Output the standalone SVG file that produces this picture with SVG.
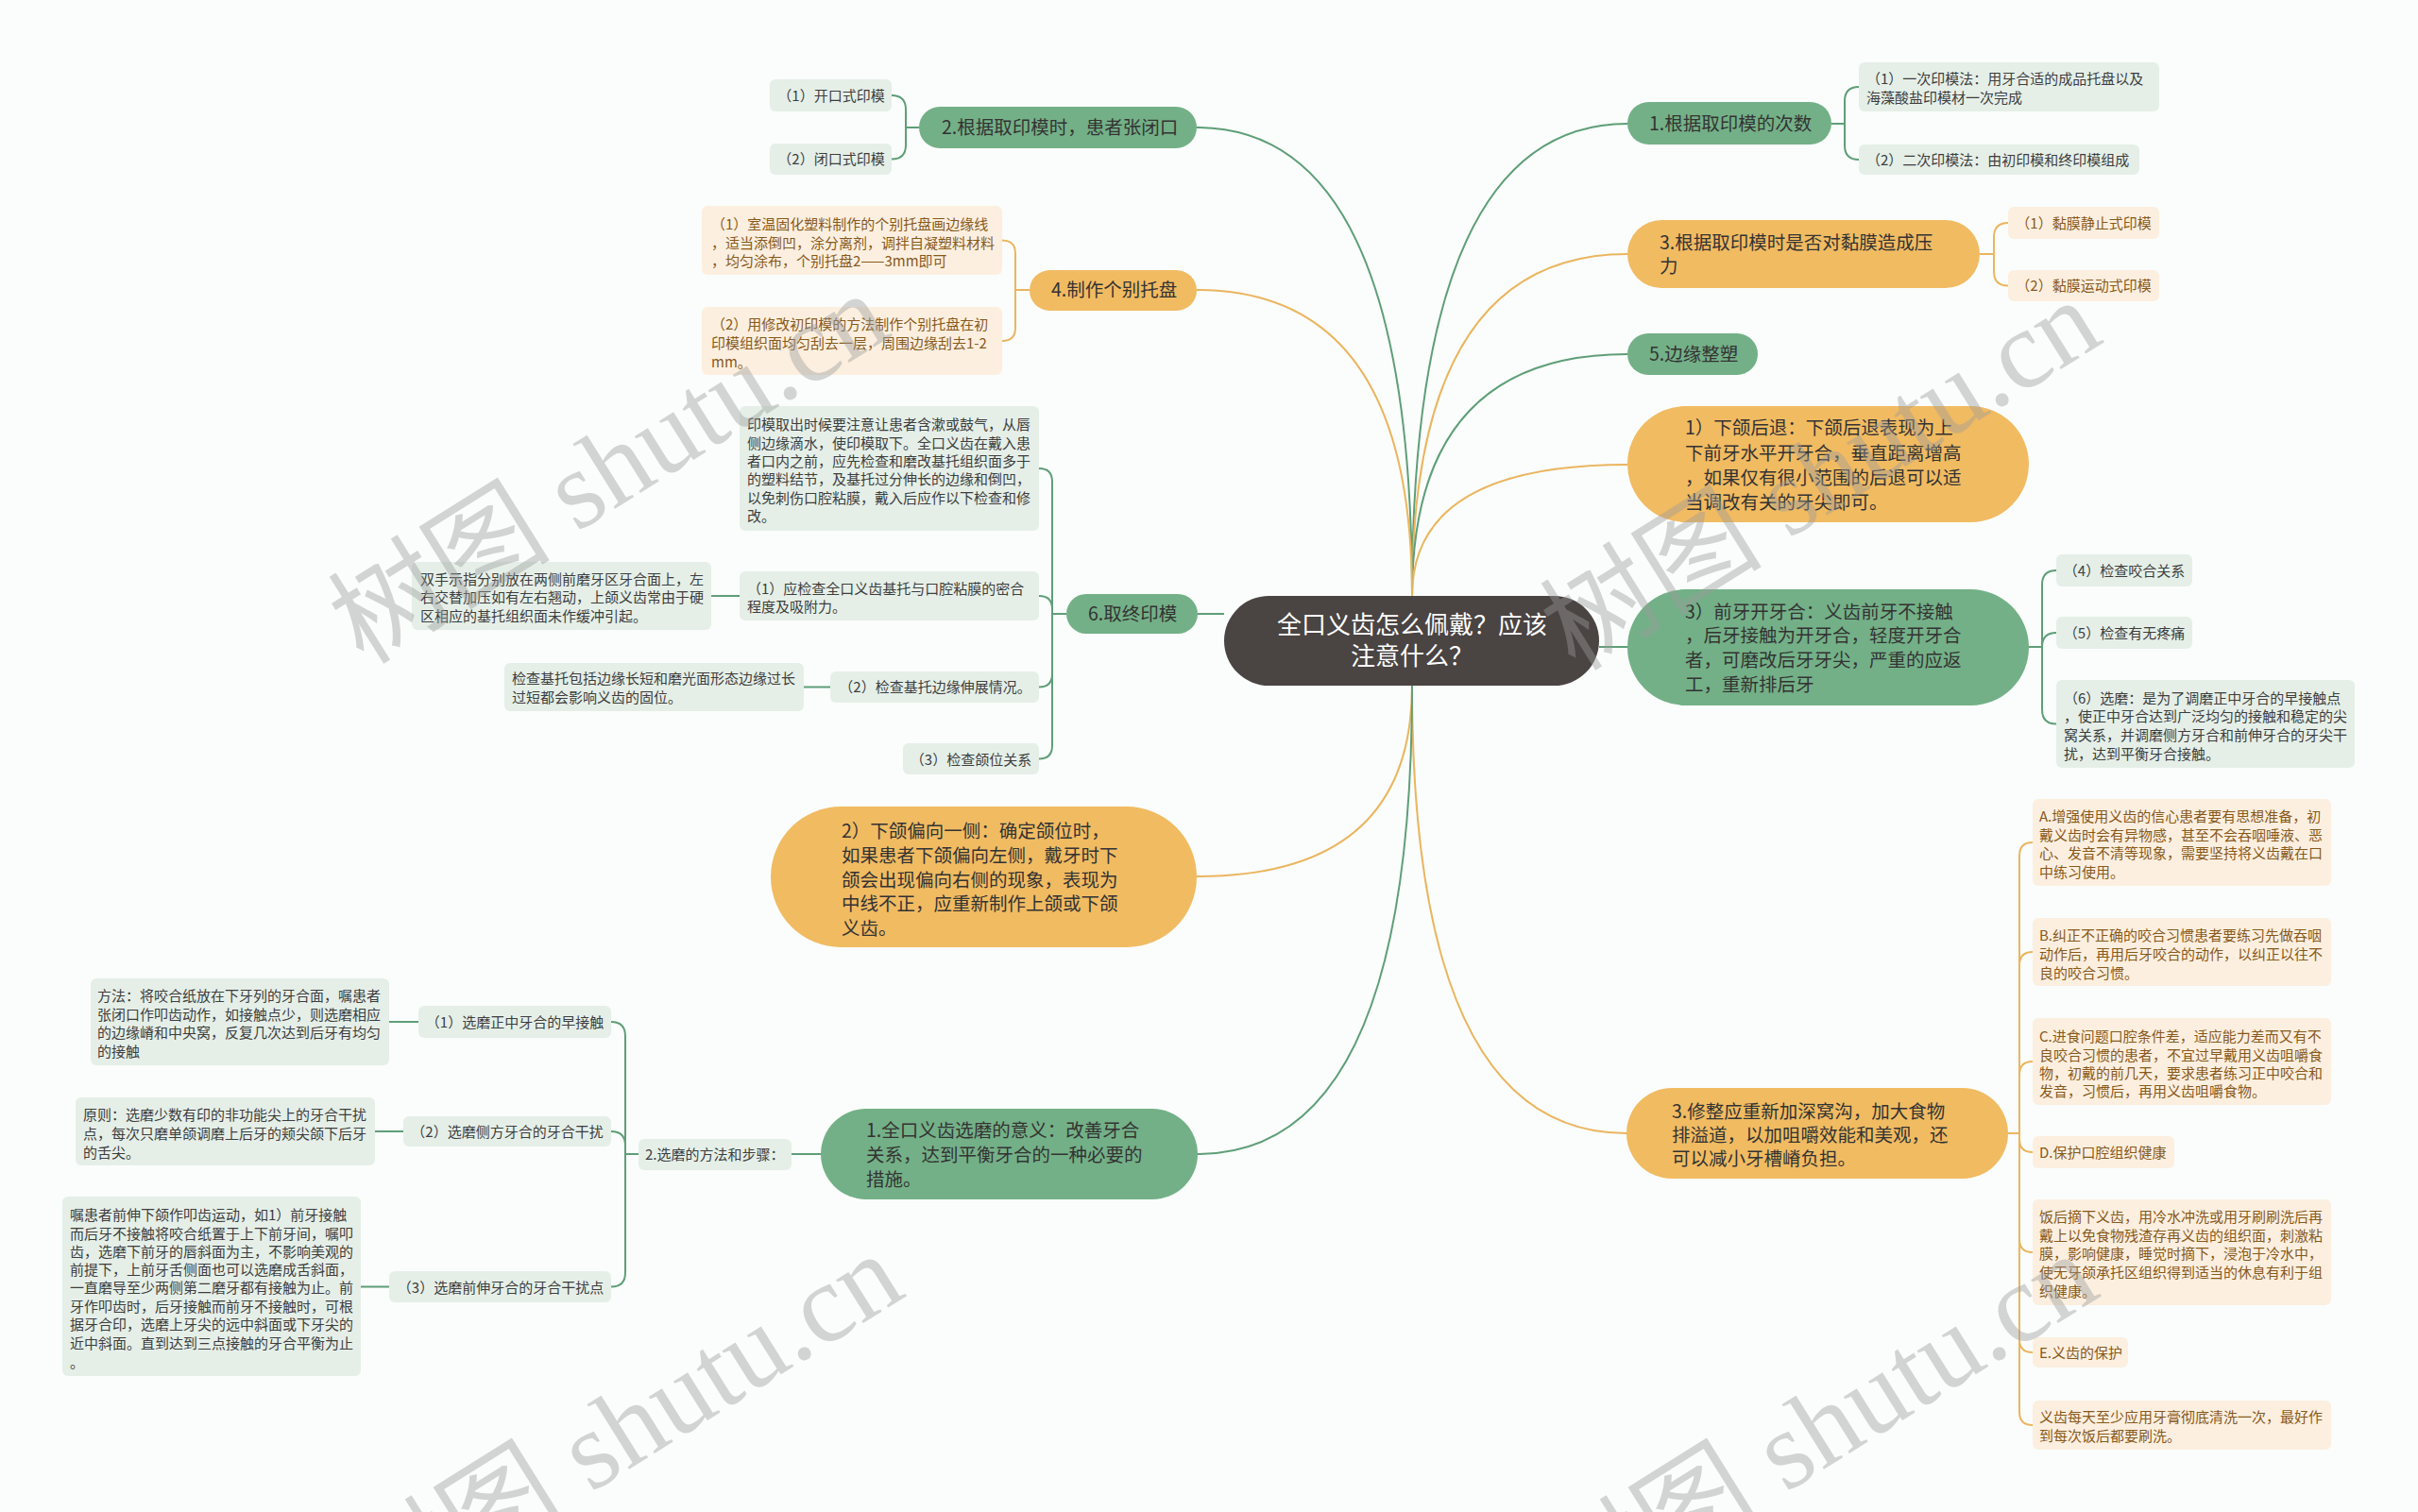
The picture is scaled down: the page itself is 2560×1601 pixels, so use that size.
<svg xmlns="http://www.w3.org/2000/svg" width="2560" height="1601" viewBox="0 0 2560 1601">
<style>
text{font-family:"Noto Sans CJK SC","Noto Sans",sans-serif}
.pt{font-size:19.5px;fill:#333}
.st{font-size:15px}
.sg{fill:#3d3d3d}
.so{fill:#87591b}
.pg{fill:#73b087}
.po{fill:#f1bb62}
.bg{fill:#e5efe8}
.bo{fill:#fcefdf}
.cg{fill:none;stroke:#5f9e78;stroke-width:2}
.co{fill:none;stroke:#ebb55f;stroke-width:2}
.wm{font-family:"Liberation Serif","Noto Sans CJK SC",serif;font-size:118px;fill:#9a9a9a;fill-opacity:0.42}
</style>
<rect x="0" y="0" width="2560" height="1601" fill="#fafdfb"/>
<g id="connectors">
<path class="cg" d="M1495,631 Q1495,131 1723,131"/>
<path class="co" d="M1495,631 Q1495,269 1723,269"/>
<path class="cg" d="M1495,631 Q1495,375 1723,375"/>
<path class="co" d="M1495,631 Q1495,492 1723,492"/>
<path class="cg" d="M1693,685 L1723,685"/>
<path class="co" d="M1495,726 Q1495,1200 1722,1200"/>
<path class="cg" d="M1495,631 Q1495,135 1267,135"/>
<path class="co" d="M1495,631 Q1495,307 1267,307"/>
<path class="cg" d="M1296,650 L1268,650"/>
<path class="co" d="M1495,726 Q1495,928 1267,928"/>
<path class="cg" d="M1495,726 Q1495,1222 1268,1222"/>
<path class="cg" d="M973,135 L959,135 M959,135 L959,116 Q959,101 944,101 M959,135 L959,153.5 Q959,168.5 944,168.5"/>
<path class="co" d="M1090,307 L1075,307 M1075,307 L1075,268.5 Q1075,254.5 1061,254.5 M1075,307 L1075,347 Q1075,361 1061,361"/>
<path class="cg" d="M1129,650 L1114,650 M1114,650 L1114,510 Q1114,496 1100,496 M1114,650 L1114,645 Q1114,631 1100,631 M1114,650 L1114,713.5 Q1114,727.5 1100,727.5 M1114,650 L1114,789.5 Q1114,803.5 1100,803.5"/>
<path class="cg" d="M783,631 L753,631 M879,727.5 L851,727.5"/>
<path class="cg" d="M869,1222 L838,1222"/>
<path class="cg" d="M676,1222 L662,1222 M662,1222 L662,1097 Q662,1082 647,1082 M662,1222 L662,1213 Q662,1198 647,1198 M662,1222 L662,1347.5 Q662,1362.5 647,1362.5"/>
<path class="cg" d="M443,1082 L412,1082 M427,1198 L397,1198 M412,1362.5 L382,1362.5"/>
<path class="cg" d="M1939,131 L1953,131 M1953,131 L1953,107 Q1953,92 1968,92 M1953,131 L1953,154 Q1953,169 1968,169"/>
<path class="co" d="M2096,269 L2111,269 M2111,269 L2111,251 Q2111,236 2126,236 M2111,269 L2111,287.5 Q2111,302.5 2126,302.5"/>
<path class="cg" d="M2148,685 L2162,685 M2162,685 L2162,619 Q2162,604 2177,604 M2162,685 Q2162,670 2177,670 M2162,685 L2162,751.5 Q2162,766.5 2177,766.5"/>
<path class="co" d="M2126,1200 L2138,1200 M2138,1200 L2138,906 Q2138,892 2152,892 M2138,1200 L2138,1022 Q2138,1008 2152,1008 M2138,1200 L2138,1138 Q2138,1124 2152,1124 M2138,1200 L2138,1206 Q2138,1220 2152,1220 M2138,1200 L2138,1312 Q2138,1326 2152,1326 M2138,1200 L2138,1418 Q2138,1432 2152,1432 M2138,1200 L2138,1495 Q2138,1509 2152,1509"/>
</g>
<g id="center">
<rect x="1296" y="631" width="397" height="95" rx="47.5" fill="#4a4443"/>
<text x="1495" y="671" text-anchor="middle" font-size="26" fill="#ffffff">全口义齿怎么佩戴？应该</text>
<text x="1495" y="704" text-anchor="middle" font-size="26" fill="#ffffff">注意什么？</text>
</g>
<g id="r1">
<rect class="pg" x="1723" y="108" width="216" height="45" rx="22.5"/>
<text class="pt" x="1746" y="138">1.根据取印模的次数</text>
</g>
<g id="r1c1">
<rect class="bg" x="1968" y="66" width="318" height="52" rx="6"/>
<text class="st sg" x="1976" y="89">（1）一次印模法：用牙合适的成品托盘以及</text>
<text class="st sg" x="1976" y="109">海藻酸盐印模材一次完成</text>
</g>
<g id="r1c2">
<rect class="bg" x="1968" y="153" width="297" height="32" rx="6"/>
<text class="st sg" x="1976" y="175">（2）二次印模法：由初印模和终印模组成</text>
</g>
<g id="r2">
<rect class="po" x="1723" y="233" width="373" height="72" rx="36"/>
<text class="pt" x="1757" y="264">3.根据取印模时是否对黏膜造成压</text>
<text class="pt" x="1757" y="289">力</text>
</g>
<g id="r2c1">
<rect class="bo" x="2126" y="219" width="160" height="34" rx="6"/>
<text class="st so" x="2206" y="242" text-anchor="middle">（1）黏膜静止式印模</text>
</g>
<g id="r2c2">
<rect class="bo" x="2126" y="286" width="160" height="33" rx="6"/>
<text class="st so" x="2206" y="308" text-anchor="middle">（2）黏膜运动式印模</text>
</g>
<g id="r3">
<rect class="pg" x="1723" y="353" width="138" height="44" rx="22"/>
<text class="pt" x="1746" y="382">5.边缘整塑</text>
</g>
<g id="r4">
<rect class="po" x="1723" y="430" width="425" height="123" rx="61.5"/>
<text class="pt" x="1784" y="460">1）下颌后退：下颌后退表现为上</text>
<text class="pt" x="1784" y="487">下前牙水平开牙合，垂直距离增高</text>
<text class="pt" x="1784" y="513">，如果仅有很小范围的后退可以适</text>
<text class="pt" x="1784" y="539">当调改有关的牙尖即可。</text>
</g>
<g id="r5">
<rect class="pg" x="1723" y="624" width="425" height="123" rx="61.5"/>
<text class="pt" x="1784" y="655">3）前牙开牙合：义齿前牙不接触</text>
<text class="pt" x="1784" y="680">，后牙接触为开牙合，轻度开牙合</text>
<text class="pt" x="1784" y="706">者，可磨改后牙牙尖，严重的应返</text>
<text class="pt" x="1784" y="732">工，重新排后牙</text>
</g>
<g id="r5c4">
<rect class="bg" x="2177" y="587" width="144" height="34" rx="6"/>
<text class="st sg" x="2249" y="610" text-anchor="middle">（4）检查咬合关系</text>
</g>
<g id="r5c5">
<rect class="bg" x="2177" y="653" width="144" height="34" rx="6"/>
<text class="st sg" x="2249" y="676" text-anchor="middle">（5）检查有无疼痛</text>
</g>
<g id="r5c6">
<rect class="bg" x="2177" y="720" width="316" height="93" rx="6"/>
<text class="st sg" x="2185" y="745">（6）选磨：是为了调磨正中牙合的早接触点</text>
<text class="st sg" x="2185" y="764">，使正中牙合达到广泛均匀的接触和稳定的尖</text>
<text class="st sg" x="2185" y="784">窝关系，并调磨侧方牙合和前伸牙合的牙尖干</text>
<text class="st sg" x="2185" y="804">扰，达到平衡牙合接触。</text>
</g>
<g id="r6">
<rect class="po" x="1722" y="1152" width="404" height="96" rx="48"/>
<text class="pt" x="1770" y="1184">3.修整应重新加深窝沟，加大食物</text>
<text class="pt" x="1770" y="1209">排溢道，以加咀嚼效能和美观，还</text>
<text class="pt" x="1770" y="1234">可以减小牙槽嵴负担。</text>
</g>
<g id="r6a">
<rect class="bo" x="2152" y="846" width="316" height="92" rx="6"/>
<text class="st so" x="2159" y="870">A.增强使用义齿的信心患者要有思想准备，初</text>
<text class="st so" x="2159" y="890">戴义齿时会有异物感，甚至不会吞咽唾液、恶</text>
<text class="st so" x="2159" y="909">心、发音不清等现象，需要坚持将义齿戴在口</text>
<text class="st so" x="2159" y="929">中练习使用。</text>
</g>
<g id="r6b">
<rect class="bo" x="2152" y="972" width="316" height="72" rx="6"/>
<text class="st so" x="2159" y="996">B.纠正不正确的咬合习惯患者要练习先做吞咽</text>
<text class="st so" x="2159" y="1016">动作后，再用后牙咬合的动作，以纠正以往不</text>
<text class="st so" x="2159" y="1036">良的咬合习惯。</text>
</g>
<g id="r6c">
<rect class="bo" x="2152" y="1078" width="316" height="92" rx="6"/>
<text class="st so" x="2159" y="1103">C.进食问题口腔条件差，适应能力差而又有不</text>
<text class="st so" x="2159" y="1123">良咬合习惯的患者，不宜过早戴用义齿咀嚼食</text>
<text class="st so" x="2159" y="1142">物，初戴的前几天，要求患者练习正中咬合和</text>
<text class="st so" x="2159" y="1161">发音，习惯后，再用义齿咀嚼食物。</text>
</g>
<g id="r6d">
<rect class="bo" x="2152" y="1203" width="150" height="34" rx="6"/>
<text class="st so" x="2159" y="1226">D.保护口腔组织健康</text>
</g>
<g id="r6d1">
<rect class="bo" x="2152" y="1270" width="316" height="112" rx="6"/>
<text class="st so" x="2159" y="1294">饭后摘下义齿，用冷水冲洗或用牙刷刷洗后再</text>
<text class="st so" x="2159" y="1314">戴上以免食物残渣存再义齿的组织面，刺激粘</text>
<text class="st so" x="2159" y="1333">膜，影响健康，睡觉时摘下，浸泡于冷水中，</text>
<text class="st so" x="2159" y="1353">使无牙颌承托区组织得到适当的休息有利于组</text>
<text class="st so" x="2159" y="1373">织健康。</text>
</g>
<g id="r6e">
<rect class="bo" x="2152" y="1416" width="101" height="32" rx="6"/>
<text class="st so" x="2159" y="1438">E.义齿的保护</text>
</g>
<g id="r6e1">
<rect class="bo" x="2152" y="1483" width="316" height="52" rx="6"/>
<text class="st so" x="2159" y="1506">义齿每天至少应用牙膏彻底清洗一次，最好作</text>
<text class="st so" x="2159" y="1526">到每次饭后都要刷洗。</text>
</g>
<g id="l1">
<rect class="pg" x="973" y="113" width="294" height="44" rx="22"/>
<text class="pt" x="997" y="142">2.根据取印模时，患者张闭口</text>
</g>
<g id="l1c1">
<rect class="bg" x="815" y="84" width="129" height="34" rx="6"/>
<text class="st sg" x="880" y="107" text-anchor="middle">（1）开口式印模</text>
</g>
<g id="l1c2">
<rect class="bg" x="815" y="152" width="129" height="33" rx="6"/>
<text class="st sg" x="880" y="174" text-anchor="middle">（2）闭口式印模</text>
</g>
<g id="l2">
<rect class="po" x="1090" y="286" width="177" height="43" rx="21.5"/>
<text class="pt" x="1113" y="314">4.制作个别托盘</text>
</g>
<g id="l2c1">
<rect class="bo" x="743" y="218" width="318" height="73" rx="6"/>
<text class="st so" x="753" y="243">（1）室温固化塑料制作的个别托盘画边缘线</text>
<text class="st so" x="753" y="263">，适当添倒凹，涂分离剂，调拌自凝塑料材料</text>
<text class="st so" x="753" y="282">，均匀涂布，个别托盘2——3mm即可</text>
</g>
<g id="l2c2">
<rect class="bo" x="743" y="325" width="318" height="72" rx="6"/>
<text class="st so" x="753" y="349">（2）用修改初印模的方法制作个别托盘在初</text>
<text class="st so" x="753" y="369">印模组织面均匀刮去一层，周围边缘刮去1-2</text>
<text class="st so" x="753" y="389">mm。</text>
</g>
<g id="l3">
<rect class="pg" x="1129" y="629" width="139" height="42" rx="21"/>
<text class="pt" x="1152" y="657">6.取终印模</text>
</g>
<g id="l3c0">
<rect class="bg" x="783" y="430" width="317" height="132" rx="6"/>
<text class="st sg" x="791" y="455">印模取出时候要注意让患者含漱或鼓气，从唇</text>
<text class="st sg" x="791" y="475">侧边缘滴水，使印模取下。全口义齿在戴入患</text>
<text class="st sg" x="791" y="494">者口内之前，应先检查和磨改基托组织面多于</text>
<text class="st sg" x="791" y="513">的塑料结节，及基托过分伸长的边缘和倒凹，</text>
<text class="st sg" x="791" y="533">以免刺伤口腔粘膜，戴入后应作以下检查和修</text>
<text class="st sg" x="791" y="552">改。</text>
</g>
<g id="l3c1">
<rect class="bg" x="783" y="605" width="317" height="52" rx="6"/>
<text class="st sg" x="791" y="629">（1）应检查全口义齿基托与口腔粘膜的密合</text>
<text class="st sg" x="791" y="648">程度及吸附力。</text>
</g>
<g id="l3c1a">
<rect class="bg" x="436" y="595" width="317" height="72" rx="6"/>
<text class="st sg" x="445" y="619">双手示指分别放在两侧前磨牙区牙合面上，左</text>
<text class="st sg" x="445" y="638">右交替加压如有左右翘动，上颌义齿常由于硬</text>
<text class="st sg" x="445" y="658">区相应的基托组织面未作缓冲引起。</text>
</g>
<g id="l3c2">
<rect class="bg" x="879" y="711" width="221" height="33" rx="6"/>
<text class="st sg" x="990" y="733" text-anchor="middle">（2）检查基托边缘伸展情况。</text>
</g>
<g id="l3c2a">
<rect class="bg" x="534" y="702" width="317" height="51" rx="6"/>
<text class="st sg" x="542" y="724">检查基托包括边缘长短和磨光面形态边缘过长</text>
<text class="st sg" x="542" y="744">过短都会影响义齿的固位。</text>
</g>
<g id="l3c3">
<rect class="bg" x="956" y="787" width="144" height="33" rx="6"/>
<text class="st sg" x="1028" y="810" text-anchor="middle">（3）检查颌位关系</text>
</g>
<g id="l4">
<rect class="po" x="816" y="854" width="451" height="149" rx="74.5"/>
<text class="pt" x="891" y="887">2）下颌偏向一侧：确定颌位时，</text>
<text class="pt" x="891" y="913">如果患者下颌偏向左侧，戴牙时下</text>
<text class="pt" x="891" y="939">颌会出现偏向右侧的现象，表现为</text>
<text class="pt" x="891" y="964">中线不正，应重新制作上颌或下颌</text>
<text class="pt" x="891" y="990">义齿。</text>
</g>
<g id="l5">
<rect class="pg" x="869" y="1174" width="399" height="96" rx="48"/>
<text class="pt" x="917" y="1204">1.全口义齿选磨的意义：改善牙合</text>
<text class="pt" x="917" y="1230">关系，达到平衡牙合的一种必要的</text>
<text class="pt" x="917" y="1256">措施。</text>
</g>
<g id="l5c">
<rect class="bg" x="676" y="1206" width="162" height="33" rx="6"/>
<text class="st sg" x="683" y="1228">2.选磨的方法和步骤：</text>
</g>
<g id="l5c1">
<rect class="bg" x="443" y="1065" width="204" height="34" rx="6"/>
<text class="st sg" x="545" y="1088" text-anchor="middle">（1）选磨正中牙合的早接触</text>
</g>
<g id="l5c1a">
<rect class="bg" x="96" y="1036" width="316" height="92" rx="6"/>
<text class="st sg" x="103" y="1060">方法：将咬合纸放在下牙列的牙合面，嘱患者</text>
<text class="st sg" x="103" y="1080">张闭口作叩齿动作，如接触点少，则选磨相应</text>
<text class="st sg" x="103" y="1099">的边缘嵴和中央窝，反复几次达到后牙有均匀</text>
<text class="st sg" x="103" y="1119">的接触</text>
</g>
<g id="l5c2">
<rect class="bg" x="427" y="1182" width="220" height="32" rx="6"/>
<text class="st sg" x="537" y="1204" text-anchor="middle">（2）选磨侧方牙合的牙合干扰</text>
</g>
<g id="l5c2a">
<rect class="bg" x="80" y="1162" width="317" height="72" rx="6"/>
<text class="st sg" x="88" y="1186">原则：选磨少数有印的非功能尖上的牙合干扰</text>
<text class="st sg" x="88" y="1206">点，每次只磨单颌调磨上后牙的颊尖颌下后牙</text>
<text class="st sg" x="88" y="1226">的舌尖。</text>
</g>
<g id="l5c3">
<rect class="bg" x="412" y="1346" width="235" height="33" rx="6"/>
<text class="st sg" x="530" y="1369" text-anchor="middle">（3）选磨前伸牙合的牙合干扰点</text>
</g>
<g id="l5c3a">
<rect class="bg" x="66" y="1267" width="316" height="190" rx="6"/>
<text class="st sg" x="74" y="1292">嘱患者前伸下颌作叩齿运动，如1）前牙接触</text>
<text class="st sg" x="74" y="1312">而后牙不接触将咬合纸置于上下前牙间，嘱叩</text>
<text class="st sg" x="74" y="1331">齿，选磨下前牙的唇斜面为主，不影响美观的</text>
<text class="st sg" x="74" y="1350">前提下，上前牙舌侧面也可以选磨成舌斜面，</text>
<text class="st sg" x="74" y="1369">一直磨导至少两侧第二磨牙都有接触为止。前</text>
<text class="st sg" x="74" y="1389">牙作叩齿时，后牙接触而前牙不接触时，可根</text>
<text class="st sg" x="74" y="1408">据牙合印，选磨上牙尖的远中斜面或下牙尖的</text>
<text class="st sg" x="74" y="1428">近中斜面。直到达到三点接触的牙合平衡为止</text>
<text class="st sg" x="74" y="1448">。</text>
</g>
<g id="watermarks">
<text class="wm" transform="translate(385,705) rotate(-32)">树图 shutu.cn</text>
<text class="wm" transform="translate(1668,712) rotate(-32)">树图 shutu.cn</text>
<text class="wm" transform="translate(400,1722) rotate(-32)">树图 shutu.cn</text>
<text class="wm" transform="translate(1665,1722) rotate(-32)">树图 shutu.cn</text>
</g>
</svg>
